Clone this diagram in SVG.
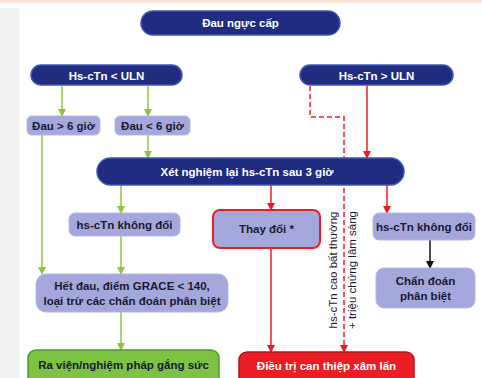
<svg xmlns="http://www.w3.org/2000/svg" width="482" height="378" viewBox="0 0 482 378">
<defs>
<style>
.dark{fill:#202c80;stroke:#3e55b8;stroke-width:1.5}
.light{fill:#a4a7dc;stroke:#b4b7e6;stroke-width:1}
.t{font-family:"Liberation Sans",Arial,sans-serif;font-weight:bold;font-size:11.5px;text-anchor:middle}
.v{font-family:"Liberation Sans",Arial,sans-serif;font-size:11.5px;text-anchor:middle;fill:#1a1a33}
.w{fill:#ffffff}
.k{fill:#1a1a33}
.g{stroke:#8cc63f;stroke-width:1.5;fill:none}
.r{stroke:#ee1c25;stroke-width:1.5;fill:none}
.rd{stroke:#ee1c25;stroke-width:1.5;fill:none;stroke-dasharray:5 3}
.b{stroke:#111111;stroke-width:1.5;fill:none}
</style>
<marker id="ag" markerWidth="8" markerHeight="8" refX="7" refY="4" orient="auto" markerUnits="userSpaceOnUse"><path d="M0,0 L8,4 L0,8 Z" fill="#8cc63f"/></marker>
<marker id="ar" markerWidth="8" markerHeight="8" refX="7" refY="4" orient="auto" markerUnits="userSpaceOnUse"><path d="M0,0 L8,4 L0,8 Z" fill="#ee1c25"/></marker>
<marker id="ab" markerWidth="8" markerHeight="8" refX="7" refY="4" orient="auto" markerUnits="userSpaceOnUse"><path d="M0,0 L8,4 L0,8 Z" fill="#111111"/></marker>
</defs>
<rect x="0" y="0" width="482" height="378" fill="#ffffff"/>
<rect x="0" y="0" width="482" height="2.5" fill="#fde3cf"/>
<rect x="0" y="8" width="19.5" height="370" fill="#f0f0f0"/>

<g id="connectors">
<line class="g" x1="62" y1="86" x2="62" y2="116" marker-end="url(#ag)"/>
<line class="g" x1="148" y1="86" x2="148" y2="116" marker-end="url(#ag)"/>
<line class="g" x1="42" y1="135" x2="42" y2="274" marker-end="url(#ag)"/>
<line class="g" x1="148" y1="135" x2="148" y2="158" marker-end="url(#ag)"/>
<line class="g" x1="121" y1="185" x2="121" y2="213" marker-end="url(#ag)"/>
<line class="g" x1="121" y1="236" x2="121" y2="274" marker-end="url(#ag)"/>
<line class="g" x1="121" y1="312" x2="121" y2="350" marker-end="url(#ag)"/>
<line class="r" x1="367" y1="86" x2="367" y2="158" marker-end="url(#ar)"/>
<polyline class="rd" points="310,86 310,117 344,117 344,352" marker-end="url(#ar)"/>
<line class="r" x1="271" y1="185" x2="271" y2="210" marker-end="url(#ar)"/>
<line class="r" x1="387" y1="185" x2="387" y2="213" marker-end="url(#ar)"/>
<line class="r" x1="271" y1="248" x2="271" y2="352" marker-end="url(#ar)"/>
<line class="b" x1="430" y1="240" x2="430" y2="268" marker-end="url(#ab)"/>
<text class="v" transform="translate(336.5,270) rotate(-90)">hs-cTn cao bất thường</text>
<text class="v" transform="translate(355.5,270) rotate(-90)">+ triệu chứng lâm sàng</text>
</g>

<g id="n-dau-nguc-cap"><rect class="dark" x="141" y="11" width="199" height="24" rx="12"/><text class="t w" x="240.5" y="27">Đau ngực cấp</text></g>
<g id="n-lt-uln"><rect class="dark" x="31" y="65" width="151" height="20" rx="10"/><text class="t w" x="106.5" y="79.5">Hs-cTn &lt; ULN</text></g>
<g id="n-gt-uln"><rect class="dark" x="300" y="65" width="153" height="20" rx="10"/><text class="t w" x="376.5" y="79.5">Hs-cTn &gt; ULN</text></g>
<g id="n-dau-gt6"><rect class="light" x="27" y="116" width="73" height="19" rx="5"/><text class="t k" x="63.5" y="129.5">Đau &gt; 6 giờ</text></g>
<g id="n-dau-lt6"><rect class="light" x="115" y="116" width="75" height="19" rx="5"/><text class="t k" x="152.5" y="129.5">Đau &lt; 6 giờ</text></g>
<g id="n-xet-nghiem"><rect class="dark" x="97" y="158" width="307" height="27" rx="13.5"/><text class="t w" x="247" y="175.5">Xét nghiệm lại hs-cTn sau 3 giờ</text></g>
<g id="n-khong-doi-l"><rect class="light" x="69" y="213" width="111" height="23" rx="6"/><text class="t k" x="124.5" y="228.5">hs-cTn không đổi</text></g>
<g id="n-thay-doi"><rect x="213" y="210" width="107" height="38" rx="7" fill="#a4a7dc" stroke="#ee1c25" stroke-width="2"/><text class="t k" x="266.5" y="233">Thay đổi *</text></g>
<g id="n-khong-doi-r"><rect class="light" x="373" y="213" width="102" height="27" rx="6"/><text class="t k" x="424" y="230.5">hs-cTn không đổi</text></g>
<g id="n-het-dau"><rect class="light" x="36" y="274" width="192" height="38" rx="10"/><text class="t k" x="132" y="290">Hết đau, điểm GRACE &lt; 140,</text><text class="t k" x="132" y="305">loại trừ các chẩn đoán phân biệt</text></g>
<g id="n-chan-doan"><rect class="light" x="376" y="268" width="99" height="40" rx="8"/><text class="t k" x="425.5" y="285">Chẩn đoán</text><text class="t k" x="425.5" y="300">phân biệt</text></g>
<g id="n-ra-vien"><rect x="28" y="350" width="191" height="36" rx="8" fill="#7dc242" stroke="#4e9a2a" stroke-width="1.5"/><text class="t k" x="123.5" y="368.5">Ra viện/nghiệm pháp gắng sức</text></g>
<g id="n-dieu-tri"><rect x="239" y="352" width="175" height="34" rx="8" fill="#ec1c24" stroke="#b5121b" stroke-width="1.5"/><text class="t w" x="326.5" y="369.5">Điều trị can thiệp xâm lấn</text></g>
</svg>
